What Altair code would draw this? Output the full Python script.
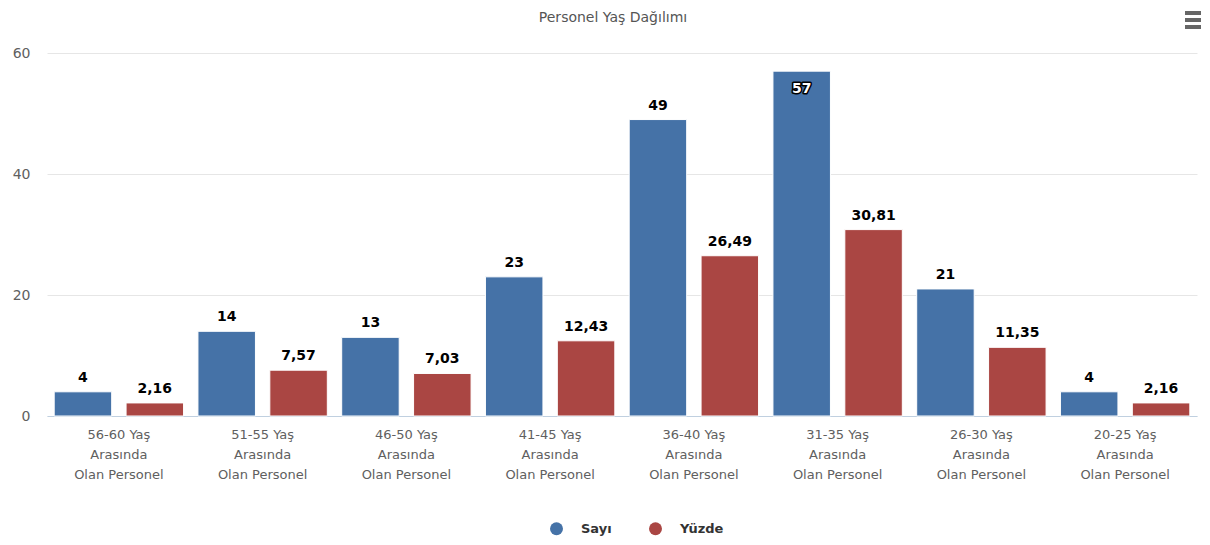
import altair as alt
import pandas as pd

categories = ["56-60 Yaş", "51-55 Yaş", "46-50 Yaş", "41-45 Yaş",
              "36-40 Yaş", "31-35 Yaş", "26-30 Yaş", "20-25 Yaş"]
sayi = [4, 14, 13, 23, 49, 57, 21, 4]
yuzde = [2.16, 7.57, 7.03, 12.43, 26.49, 30.81, 11.35, 2.16]
series_names = ["Sayı", "Yüzde"]
series_colors = ["#4572A7", "#AA4643"]
chart_title = "Personel Yaş Dağılımı"

rows = []
for c, s, y in zip(categories, sayi, yuzde):
    rows.append({"cat": c, "series": "Sayı", "value": s, "label": str(s)})
    rows.append({"cat": c, "series": "Yüzde", "value": y,
                 "label": f"{y:.2f}".replace(".", ",")})
df = pd.DataFrame(rows)

FONT = "DejaVu Sans"

x_enc = alt.X("cat:N", sort=categories, title=None,
              scale=alt.Scale(paddingInner=0.1, paddingOuter=0.05),
              axis=alt.Axis(labelAngle=0, labelFontSize=13, labelColor="#606060",
                            labelFont=FONT, labelPadding=12, labelLineHeight=20,
                            labelExpr="[datum.label, 'Arasında', 'Olan Personel']",
                            domainColor="#C0D0E0", domainWidth=1, ticks=False,
                            grid=False))
xoff = alt.XOffset("series:N", sort=series_names,
                   scale=alt.Scale(paddingInner=0.2, paddingOuter=0))
y_enc = alt.Y("value:Q", title=None,
              scale=alt.Scale(domain=[0, 60], nice=False),
              axis=alt.Axis(values=[0, 20, 40, 60], labelFontSize=14,
                            labelColor="#606060", labelFont=FONT, labelPadding=17,
                            domain=False, ticks=False, gridColor="#E6E6E6",
                            gridWidth=1))
color_enc = alt.Color("series:N", sort=series_names,
                      scale=alt.Scale(domain=series_names, range=series_colors),
                      legend=alt.Legend(title=None, orient="none", direction="horizontal",
                                        legendX=503, legendY=469,
                                        symbolType="circle", symbolSize=169,
                                        symbolStrokeWidth=0, symbolOpacity=1,
                                        labelFontSize=13, labelFontWeight="bold",
                                        labelColor="#333333", labelFont=FONT,
                                        labelOffset=18, columnPadding=37, padding=0))

base = alt.Chart(df)

bars = base.mark_bar(stroke="#FFFFFF", strokeWidth=1).encode(
    x=x_enc, xOffset=xoff, y=y_enc, color=color_enc)

labels_out = base.transform_filter("datum.value < 55").mark_text(
    baseline="bottom", dy=-7, fontSize=14, fontWeight="bold", font=FONT,
    color="#000000").encode(x=alt.X("cat:N", sort=categories), xOffset=xoff,
                             y="value:Q", text="label:N")

inside = base.transform_filter("datum.value >= 55")
labels_in_stroke = inside.mark_text(
    baseline="top", dy=11, fontSize=14, fontWeight="bold", font=FONT,
    fill="#000000", stroke="#000000", strokeWidth=3, strokeJoin="round").encode(
    x=alt.X("cat:N", sort=categories), xOffset=xoff, y="value:Q", text="label:N")
labels_in = inside.mark_text(
    baseline="top", dy=11, fontSize=14, fontWeight="bold", font=FONT,
    color="#FFFFFF").encode(
    x=alt.X("cat:N", sort=categories), xOffset=xoff, y="value:Q", text="label:N")

title_mark = alt.Chart(pd.DataFrame({"t": [chart_title]})).mark_text(
    fontSize=14, font=FONT, color="#555555", align="center", baseline="middle").encode(
    x=alt.value(566), y=alt.value(-35), text="t:N")

icon = [
    alt.Chart(df).mark_rule(color="#666666", strokeWidth=3).encode(
        x=alt.value(1138), x2=alt.value(1154), y=alt.value(yy))
    for yy in (-40, -33, -26)
]

chart = alt.layer(bars, labels_out, labels_in_stroke, labels_in, title_mark, *icon).properties(
    width=1150, height=363,
    autosize=alt.AutoSizeParams(type="none"),
    padding={"left": 39, "top": 45, "right": 5, "bottom": 121},
).configure_view(stroke=None)

chart.save("out.html", embed_options={"renderer": "svg", "actions": False})
